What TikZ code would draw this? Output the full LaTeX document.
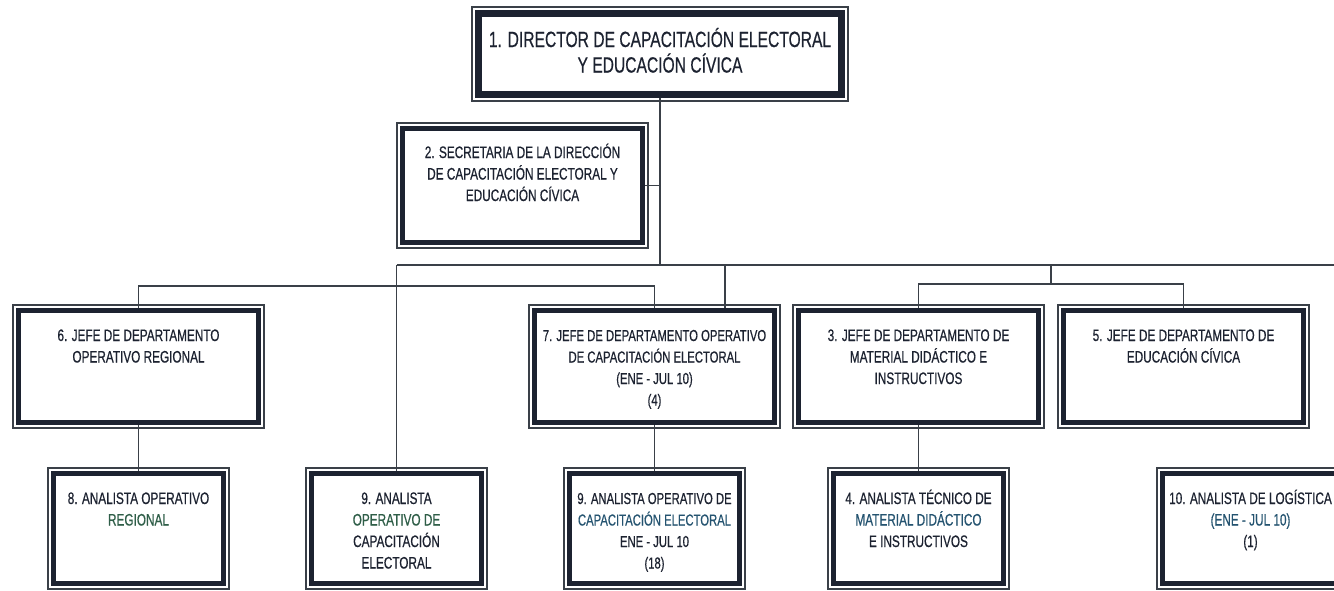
\documentclass[tikz,border=0pt]{standalone}
\usepackage{fontspec}
\usepackage{graphicx}
\setmainfont{Liberation Sans}[FakeBold=0.6]

\definecolor{ink}{HTML}{1C2230}
\definecolor{wirecol}{HTML}{3A4048}
\definecolor{leafgreen}{HTML}{2F5E48}
\definecolor{leafblue}{HTML}{245370}

% narrow, centred lines, baseline on the first line
\newcommand{\orgtext}[1]{\scalebox{0.71}[1]{\begin{tabular}[t]{@{}c@{}}#1\end{tabular}}}

\begin{document}
\begin{tikzpicture}[x=0.5pt, y=-0.5pt,
        orgbox/.style={draw=ink, line width=2.5pt, fill=white, anchor=north west,
            inner sep=0pt, text=ink, font=\fontsize{8.3}{10.75}\selectfont,
            text height=15.25pt},
        headbox/.style={orgbox, line width=3.5pt, minimum width=181.5pt,
            font=\fontsize{11}{10.75}\selectfont, text height=16.75pt, text depth=23.75pt},
        secbox/.style={orgbox, minimum width=120pt, text height=14.75pt, text depth=42.25pt},
        deptbox/.style={orgbox, minimum width=120pt, text depth=40.75pt},
        staffbox/.style={orgbox, minimum width=85pt, text depth=39.75pt},
        tight/.style={font=\fontsize{7.95}{10.75}\selectfont},
        rim/.style={draw=wirecol, line width=0.6pt},
        wire/.style={draw=wirecol, line width=0.6pt}]
        \useasboundingbox (0,0) rectangle (1334,590);
        \clip (0,0) rectangle (1334,590);

        % connectors
        \coordinate (hub) at (660,265);
        \coordinate (busend) at (1334,265);
        \coordinate (westbar) at (397,286);
        \coordinate (tap7) at (725,265);
        \coordinate (tap35) at (1051,265);
        \coordinate (eastbar) at (1051,284);

        % boxes
        \node[headbox] (dir) at (475,10) {\orgtext{1. DIRECTOR DE CAPACITACIÓN ELECTORAL\\Y EDUCACIÓN CÍVICA}};
        \node[secbox] (sec) at (400,126) {\orgtext{2. SECRETARIA DE LA DIRECCIÓN\\DE CAPACITACIÓN ELECTORAL Y\\EDUCACIÓN CÍVICA}};

        \node[deptbox] (d6) at (16,308) {\orgtext{6. JEFE DE DEPARTAMENTO\\OPERATIVO REGIONAL}};
        \node[deptbox, tight] (d7) at (532,308) {\orgtext{7. JEFE DE DEPARTAMENTO OPERATIVO\\DE CAPACITACIÓN ELECTORAL\\(ENE - JUL 10)\\(4)}};
        \node[deptbox] (d3) at (796,308) {\orgtext{3. JEFE DE DEPARTAMENTO DE\\MATERIAL DIDÁCTICO E\\INSTRUCTIVOS}};
        \node[deptbox] (d5) at (1061,308) {\orgtext{5. JEFE DE DEPARTAMENTO DE\\EDUCACIÓN CÍVICA}};

        \node[staffbox] (a8) at (51,471) {\orgtext{8. ANALISTA OPERATIVO\\\textcolor{leafgreen}{REGIONAL}}};
        \node[staffbox] (a9) at (309,471) {\orgtext{9. ANALISTA\\\textcolor{leafgreen}{OPERATIVO DE}\\CAPACITACIÓN\\ELECTORAL}};
        \node[staffbox, tight] (a9b) at (567,471) {\orgtext{9. ANALISTA OPERATIVO DE\\\textcolor{leafblue}{CAPACITACIÓN ELECTORAL}\\ENE - JUL 10\\(18)}};
        \node[staffbox] (a4) at (831,471) {\orgtext{4. ANALISTA TÉCNICO DE\\\textcolor{leafblue}{MATERIAL DIDÁCTICO}\\E INSTRUCTIVOS}};
        \node[staffbox, minimum width=88pt] (a10) at (1160,471) {\orgtext{10. ANALISTA DE LOGÍSTICA\\\textcolor{leafblue}{(ENE - JUL 10)}\\(1)}};

        % thin outer frames
        \foreach \n in {dir,sec,d6,d7,d3,d5,a8,a9,a9b,a4,a10}
            \draw[rim] ([shift={(-1.5pt,1.5pt)}]\n.north west) rectangle ([shift={(1.5pt,-1.5pt)}]\n.south east);

        \draw[wire] (dir.south) -- (hub);
        \draw[wire] (sec.east) -- (sec.east -| hub);
        \draw[wire] (a9.north |- hub) -- (busend);
        \draw[wire] (a9.north |- hub) -- (a9.north);
        \draw[wire] (d6.north) |- (westbar) -| (d7.north);
        \draw[wire] (tap7) -- (tap7 |- d7.north);
        \draw[wire] (tap35) -- (eastbar);
        \draw[wire] (d3.north) |- (eastbar) -| (d5.north);
        \draw[wire] (d6.south) -- (a8.north);
        \draw[wire] (d7.south) -- (a9b.north);
        \draw[wire] (d3.south) -- (a4.north);
    \end{tikzpicture}
\end{document}
